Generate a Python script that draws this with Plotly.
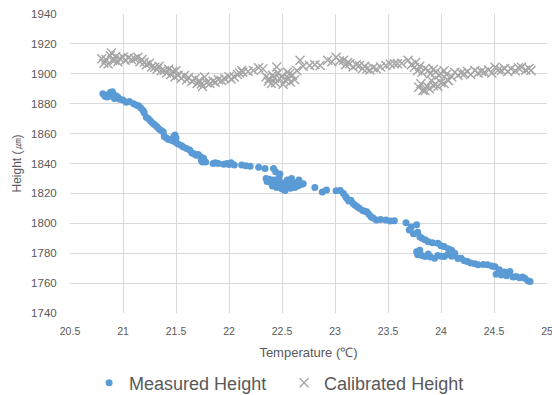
import plotly.graph_objects as go

# Measured Height (temperature, height)
meas_t = [20.81, 20.83, 20.85, 20.86, 20.88, 20.89, 20.90, 20.92, 20.93, 20.95, 20.97, 21.00, 21.03, 21.06, 21.10,
          21.13, 21.15, 21.17, 21.19, 21.20, 21.22, 21.24, 21.26, 21.28, 21.30, 21.32, 21.34, 21.36, 21.38, 21.39,
          21.41, 21.43, 21.46, 21.47, 21.48, 21.49, 21.50, 21.50, 21.52, 21.55, 21.57, 21.60, 21.63, 21.65, 21.67,
          21.69, 21.71, 21.73, 21.74, 21.75, 21.76, 21.78, 21.85, 21.87, 21.90, 21.95, 21.98, 22.00, 22.02, 22.05,
          22.12, 22.16, 22.20, 22.28, 22.34, 22.42, 22.44, 22.48, 22.35, 22.36, 22.38, 22.40, 22.41, 22.42, 22.44,
          22.45, 22.46, 22.48, 22.50, 22.50, 22.52, 22.53, 22.55, 22.56, 22.58, 22.59, 22.60, 22.62, 22.63, 22.65,
          22.66, 22.68, 22.70, 22.55, 22.47, 22.81, 22.88, 22.92, 23.01, 23.05, 23.08, 23.10, 23.11, 23.13, 23.15,
          23.17, 23.19, 23.21, 23.23, 23.26, 23.28, 23.30, 23.32, 23.34, 23.36, 23.39, 23.43, 23.48, 23.52, 23.56,
          23.67, 23.70, 23.72, 23.74, 23.77, 23.78, 23.80, 23.82, 23.85, 23.88, 23.92, 23.97, 24.00, 24.03, 24.07,
          24.10, 24.13, 23.77, 23.78, 23.80, 23.82, 23.85, 23.88, 23.90, 23.94, 23.97, 24.00, 24.03, 24.06, 24.10,
          24.13, 24.16, 24.19, 24.22, 24.25, 24.28, 24.32, 24.35, 24.40, 24.44, 24.48, 24.51, 24.52, 24.55, 24.57,
          24.60, 24.62, 24.65, 24.68, 24.71, 24.74, 24.77, 24.79, 24.82, 24.84]
meas_h = [1886.7, 1885.0, 1884.5, 1886.0, 1887.5, 1885.0, 1888.0, 1883.5, 1885.5, 1884.5, 1883.0, 1882.5, 1881.0, 1881.5, 1880.0,
          1879.0, 1878.5, 1877.0, 1875.5, 1874.0, 1871.0, 1870.0, 1868.5, 1867.0, 1866.0, 1864.5, 1863.0, 1862.0, 1861.0, 1858.0,
          1857.0, 1856.0, 1856.0, 1855.0, 1858.0, 1859.0, 1857.0, 1854.0, 1853.0, 1852.0, 1851.0, 1850.0, 1849.0, 1847.0, 1846.5,
          1845.5, 1846.0, 1844.5, 1842.0, 1841.0, 1843.5, 1841.0, 1840.0, 1840.5, 1840.0, 1839.5, 1840.0, 1839.3, 1840.5, 1839.0,
          1839.0, 1838.5, 1838.2, 1837.5, 1836.7, 1836.7, 1834.5, 1833.0, 1830.0, 1828.0, 1829.5, 1827.0, 1825.0, 1829.0, 1826.5,
          1824.0, 1827.5, 1825.5, 1823.0, 1827.0, 1825.0, 1822.0, 1824.5, 1826.5, 1823.5, 1830.0, 1825.5, 1824.0, 1827.0, 1825.0,
          1829.0, 1826.0, 1826.5, 1829.0, 1830.5, 1824.0, 1821.0, 1822.2, 1821.7, 1822.0, 1820.0, 1818.0, 1816.7, 1815.0, 1815.5,
          1813.3, 1812.0, 1811.0, 1810.0, 1808.5, 1808.0, 1807.7, 1806.0, 1804.4, 1803.5, 1802.2, 1802.5, 1802.2, 1801.5, 1801.7,
          1800.4, 1795.5, 1797.5, 1793.0, 1799.0, 1794.0, 1791.0, 1790.0, 1789.0, 1787.7, 1787.0, 1786.7, 1785.0, 1784.4, 1783.0,
          1782.0, 1780.0, 1781.0, 1779.0, 1782.0, 1778.5, 1777.8, 1779.5, 1777.5, 1776.7, 1778.5, 1778.0, 1777.8, 1779.0, 1778.0,
          1778.5, 1776.5, 1776.7, 1775.0, 1774.4, 1773.5, 1773.0, 1772.2, 1772.5, 1772.2, 1771.5, 1771.0, 1766.0, 1769.0, 1765.5,
          1767.5, 1765.0, 1767.7, 1764.0, 1764.4, 1763.5, 1764.0, 1763.3, 1761.5, 1761.0]

# Calibrated Height (temperature, height)
cal_t = [20.80, 20.82, 20.84, 20.86, 20.88, 20.89, 20.90, 20.92, 20.93, 20.95, 20.97, 21.00, 21.02, 21.05, 21.08,
         21.11, 21.14, 21.16, 21.18, 21.20, 21.22, 21.25, 21.27, 21.30, 21.32, 21.34, 21.36, 21.39, 21.41, 21.43,
         21.45, 21.47, 21.49, 21.50, 21.52, 21.55, 21.58, 21.60, 21.62, 21.65, 21.68, 21.70, 21.72, 21.74, 21.75,
         21.77, 21.79, 21.82, 21.85, 21.87, 21.90, 21.93, 21.96, 22.00, 22.02, 22.05, 22.08, 22.10, 22.12, 22.13,
         22.18, 22.23, 22.28, 22.32, 22.35, 22.37, 22.38, 22.40, 22.41, 22.43, 22.44, 22.45, 22.46, 22.48, 22.50,
         22.51, 22.53, 22.55, 22.56, 22.57, 22.58, 22.60, 22.62, 22.64, 22.67, 22.70, 22.76, 22.81, 22.86, 22.93,
         22.97, 23.01, 23.04, 23.08, 23.10, 23.12, 23.14, 23.17, 23.20, 23.23, 23.26, 23.28, 23.30, 23.33, 23.36,
         23.39, 23.43, 23.48, 23.52, 23.56, 23.59, 23.63, 23.69, 23.72, 23.75, 23.76, 23.78, 23.80, 23.82, 23.85,
         23.88, 23.90, 23.93, 23.95, 23.98, 24.00, 24.03, 24.05, 24.07, 24.10, 24.13, 24.16, 24.19, 24.22, 24.25,
         24.28, 24.32, 24.35, 24.38, 24.41, 24.45, 24.48, 24.51, 24.54, 24.57, 24.60, 24.63, 24.66, 24.70, 24.73,
         24.76, 24.80, 24.83, 24.85, 23.79, 23.81, 23.83, 23.85, 23.87, 23.89, 23.91, 23.93, 23.95, 23.97, 24.00,
         24.03, 24.06]
cal_h = [1910.0, 1907.0, 1909.5, 1906.5, 1912.0, 1914.0, 1909.0, 1909.0, 1911.5, 1908.0, 1910.0, 1911.0, 1909.0, 1910.5, 1909.5,
         1910.0, 1911.0, 1908.0, 1909.5, 1907.8, 1906.0, 1907.0, 1904.5, 1904.4, 1903.0, 1905.0, 1902.0, 1902.2, 1900.5, 1903.0,
         1899.5, 1901.5, 1897.8, 1902.0, 1899.0, 1897.0, 1898.9, 1896.0, 1897.5, 1895.0, 1896.7, 1893.5, 1895.5, 1893.3, 1891.5,
         1897.8, 1894.0, 1893.5, 1895.0, 1894.4, 1896.0, 1895.5, 1896.7, 1898.0, 1896.5, 1897.8, 1899.5, 1900.5, 1902.2, 1901.0,
         1901.5, 1902.2, 1904.0, 1903.3, 1898.0, 1895.0, 1896.7, 1893.5, 1899.0, 1897.0, 1894.0, 1904.5, 1900.5, 1896.7, 1898.5,
         1893.0, 1895.5, 1901.0, 1897.0, 1900.0, 1894.5, 1899.0, 1896.0, 1902.2, 1909.0, 1905.0, 1905.5, 1906.0, 1905.5, 1909.0,
         1908.0, 1911.0, 1908.5, 1909.0, 1906.0, 1907.5, 1906.7, 1904.5, 1906.0, 1905.5, 1903.5, 1905.0, 1903.3, 1902.5, 1904.0,
         1903.3, 1904.5, 1905.5, 1906.5, 1906.7, 1906.7, 1907.0, 1909.0, 1906.0, 1904.4, 1907.5, 1902.0, 1905.0, 1901.0, 1903.5,
         1902.2, 1900.0, 1903.0, 1901.0, 1899.0, 1900.0, 1902.0, 1899.5, 1895.5, 1898.0, 1901.0, 1899.0, 1900.5, 1900.0, 1901.5,
         1899.5, 1902.2, 1900.5, 1901.5, 1901.0, 1902.5, 1900.5, 1904.4, 1902.5, 1902.2, 1903.5, 1901.5, 1903.3, 1902.0, 1904.0,
         1904.4, 1902.5, 1903.5, 1902.2, 1891.0, 1893.3, 1889.0, 1888.9, 1891.5, 1890.0, 1895.5, 1892.0, 1893.0, 1891.5, 1894.0,
         1893.5, 1896.0]

x_ticks = [20.5, 21, 21.5, 22, 22.5, 23, 23.5, 24, 24.5, 25]
y_ticks = [1740, 1760, 1780, 1800, 1820, 1840, 1860, 1880, 1900, 1920, 1940]

font_family = "Liberation Sans, Arial, sans-serif"
grey_text = "#595959"

fig = go.Figure()
fig.add_trace(go.Scatter(
    x=meas_t, y=meas_h, mode="markers", name="Measured Height",
    marker=dict(symbol="circle", size=7, color="#5B9BD5", line=dict(width=0)),
))
fig.add_trace(go.Scatter(
    x=cal_t, y=cal_h, mode="markers", name="Calibrated Height",
    marker=dict(symbol="x-thin-open", size=9, color="#A5A5A5", line=dict(width=1.4, color="#A5A5A5")),
))

fig.update_layout(
    width=552, height=395,
    margin=dict(l=70, r=5, t=14, b=82, autoexpand=False),
    paper_bgcolor="white", plot_bgcolor="white",
    font=dict(family=font_family, color=grey_text, size=10),
    showlegend=True,
    legend=dict(orientation="h", x=0.04, xanchor="left",
                yref="container", y=0.03, yanchor="middle",
                font=dict(size=18, color=grey_text), itemsizing="trace",
                entrywidth=150, entrywidthmode="pixels",
                tracegroupgap=0),
    xaxis=dict(range=[20.5, 25], tickvals=x_ticks, ticktext=[str(v) for v in x_ticks],
               showgrid=True, gridcolor="#D9D9D9", gridwidth=1, zeroline=False,
               showline=False, ticks="outside", ticklen=8, tickcolor="rgba(0,0,0,0)",
               ticklabeloverflow="allow", automargin=False,
               tickfont=dict(size=10.5, color=grey_text),
               title=dict(text="Temperature (℃)", font=dict(size=13, color=grey_text), standoff=12)),
    yaxis=dict(range=[1740, 1940], tickvals=y_ticks, ticktext=[str(v) for v in y_ticks],
               showgrid=True, gridcolor="#D9D9D9", gridwidth=1, zeroline=False,
               showline=False, ticks="outside", ticklen=10, tickcolor="rgba(0,0,0,0)",
               automargin=False,
               tickfont=dict(size=11.5, color=grey_text),
               title=dict(text="Height (㎛)", font=dict(size=12, color=grey_text), standoff=6)),
)

fig.write_html("out.html")
